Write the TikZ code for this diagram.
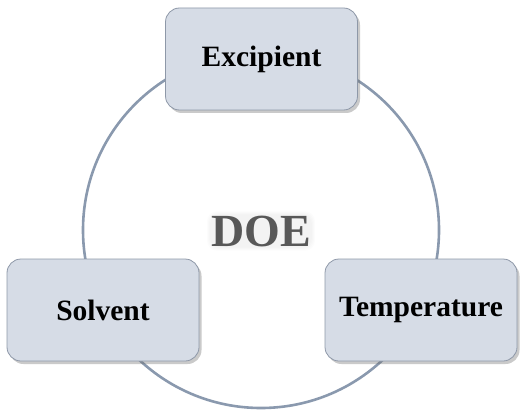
\documentclass[tikz,border=0pt]{standalone}
\usepackage{fontspec}
\setmainfont{Liberation Serif}
\usetikzlibrary{shadows}
\definecolor{boxfill}{HTML}{D6DCE6}
\definecolor{boxline}{HTML}{8E98A8}
\definecolor{ringcol}{HTML}{8A99AE}
\definecolor{doecol}{HTML}{585858}
\tikzset{
  factor/.style={draw=boxline, line width=0.8pt, fill=boxfill, rounded corners=14pt,
    minimum width=192pt, minimum height=102pt, inner sep=0pt,
    font=\fontsize{29.5}{32}\selectfont\bfseries,
    drop shadow={shadow xshift=2.5pt, shadow yshift=-3pt, opacity=0.35, fill=black!60}},
  ring/.style={circle, draw=ringcol, line width=2.6pt, minimum size=356pt, inner sep=0pt},
  doestyle/.style={font=\fontsize{46}{50}\selectfont\bfseries, text=doecol, inner sep=0pt},
  glow/.style={fill=black, opacity=0.012, rounded corners=#1}
}
\begin{document}
\begin{tikzpicture}[x=1pt,y=1pt]
\useasboundingbox (0,0) rectangle (521,413);
\node[ring] (ring) at (261,183) {};
\node[doestyle] (doe) at (261,182) {\phantom{DOE}};
\foreach \g in {1,2,3,4}
  \fill[glow=10pt] ([shift={(-5+\g,-5+\g)}]doe.south west) rectangle ([shift={(5-\g,5-\g)}]doe.north east);
\node[doestyle] at (doe.center) {DOE};
\node[factor] (exc) at (261.5,354) {Excipient};
\node[factor] (sol) at (103,103) {Solvent};
\node[factor] (tem) at (421,103) {Temperature};
\end{tikzpicture}
\end{document}
